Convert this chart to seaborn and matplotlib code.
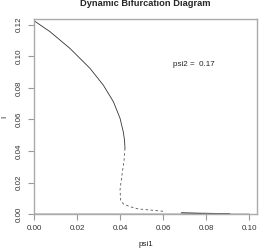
import numpy as np
import pandas as pd
import matplotlib.pyplot as plt
import seaborn as sns

# branches
stable_psi1 = [0.0, 0.0074, 0.0167, 0.026, 0.0322, 0.0369, 0.0400, 0.0415, 0.0421, 0.0423]
stable_I = [0.1225, 0.1156, 0.1050, 0.0924, 0.0818, 0.0713, 0.0608, 0.0523, 0.0470, 0.0418]

unstable_psi1 = [0.0423, 0.0419, 0.0408, 0.0400, 0.0403, 0.0416, 0.0447, 0.0485, 0.0540, 0.0601]
unstable_I = [0.0418, 0.0344, 0.0238, 0.0154, 0.0090, 0.0065, 0.0048, 0.0034, 0.0027, 0.0019]

tail_psi1 = [0.0686, 0.077, 0.084, 0.091]
tail_I = [0.0010, 0.0006, 0.0004, 0.0003]

trivial_psi1 = [0.0, 0.1]
trivial_I = [0.0, 0.0]

sns.set_style("white")
plt.rcParams["font.family"] = ["Liberation Sans", "DejaVu Sans"]

fig = plt.figure(figsize=(2.61, 2.5), dpi=100)
ax = fig.add_axes([34 / 261, 1 - 214.3 / 250, (257 - 34) / 261, (214.3 - 18.5) / 250])

sns.lineplot(x=trivial_psi1, y=trivial_I, ax=ax, color="black", lw=1.0, sort=False)
sns.lineplot(x=stable_psi1, y=stable_I, ax=ax, color="#333333", lw=0.6, sort=False)
sns.lineplot(x=unstable_psi1, y=unstable_I, ax=ax, color="#555555", lw=0.6,
             linestyle=(0, (3, 3)), sort=False)
sns.lineplot(x=tail_psi1, y=tail_I, ax=ax, color="#666666", lw=1.0, sort=False)

ax.set_xlim(0, 0.1037)
ax.set_ylim(0, 0.1239)
ax.set_xticks([0.0, 0.02, 0.04, 0.06, 0.08, 0.10])
ax.set_yticks([0.0, 0.02, 0.04, 0.06, 0.08, 0.10, 0.12])
ax.set_xticklabels(["0.00", "0.02", "0.04", "0.06", "0.08", "0.10"])
ax.set_yticklabels(["0.00", "0.02", "0.04", "0.06", "0.08", "0.10", "0.12"],
                   rotation=90, va="center")
ax.tick_params(axis="both", direction="out", length=4, width=0.8, color="#999999",
               labelsize=5.8, labelcolor="#333333", pad=4, left=True, bottom=True)
for s in ax.spines.values():
    s.set_color("#aaaaaa")
    s.set_linewidth(1.0)

ax.text(0.0744, 0.095, "psi2 =  0.17", fontsize=5.8, ha="center", va="center", color="#222222")

fig.text(145.5 / 261, 1 - 244 / 250, "psi1", fontsize=5.8, ha="center", va="center",
         color="#222222")
fig.text(5 / 261, 1 - 117 / 250, "I", fontsize=5.8, ha="center", va="center",
         rotation=90, color="#222222")
fig.text(145.5 / 261, 1 - 4 / 250, "Dynamic Bifurcation Diagram", fontsize=6.7,
         fontweight="bold", ha="center", va="center")

fig.savefig("out.png", dpi=100)
